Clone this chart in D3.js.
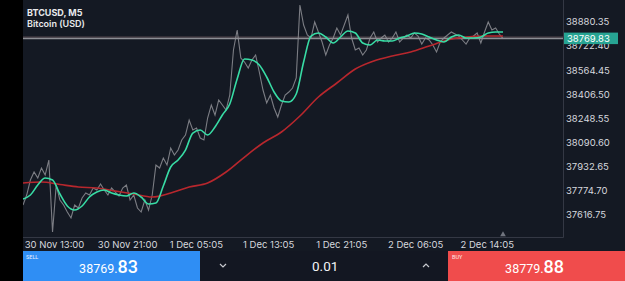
<!DOCTYPE html>
<html><head><meta charset="utf-8">
<script src="https://cdn.jsdelivr.net/npm/d3@7"></script>
<style>html,body{margin:0;padding:0;background:#000;overflow:hidden}</style>
</head><body><svg id="c" width="625" height="281"></svg>
<script>
// ---------- data ----------
const symbol = "BTCUSD, M5";
const instrument = "Bitcoin (USD)";
const totalBars = 650;
const closeStep = 5;   // bars per close sample
const closes = [
37681.5,37746.9,37845.0,37897.3,37858.1,37923.5,37877.7,37975.8,37504.9,37812.3,
37714.2,37681.5,37635.7,37596.5,37681.5,37661.9,37727.3,37760.0,37746.9,37792.7,
37779.6,37818.9,37779.6,37746.9,37792.7,37766.5,37740.4,37792.7,37812.3,37714.2,
37746.9,37661.9,37635.7,37714.2,37648.8,37746.9,37943.1,37923.5,37988.9,37943.1,
38054.3,38008.5,38041.2,38106.6,38139.3,38237.4,38172.0,38185.1,38119.7,38106.6,
38250.5,38335.5,38270.1,38368.2,38335.5,38302.8,38400.9,38695.3,38826.1,38642.9,
38616.8,38577.5,38629.9,38662.6,38551.4,38433.6,38348.6,38400.9,38315.9,38257.1,
38335.5,38400.9,38420.6,38446.7,38512.1,38989.6,38858.8,38793.4,38773.7,38878.4,
38813.0,38747.6,38662.6,38728.0,38773.7,38839.2,38793.4,38858.8,38924.2,38773.7,
38695.3,38708.3,38662.6,38695.3,38773.7,38813.0,38747.6,38773.7,38793.4,38747.6,
38773.7,38813.0,38747.6,38773.7,38793.4,38773.7,38806.4,38786.8,38734.5,38773.7,
38760.7,38728.0,38682.2,38747.6,38773.7,38793.4,38813.0,38799.9,38786.8,38760.7,
38734.5,38773.7,38786.8,38806.4,38741.0,38813.0,38878.4,38826.1,38839.2,38799.9,
38769.83];
const fastStep = 10;
const fastMA = [
37720.7,37746.9,37812.3,37858.1,37845.0,37753.4,37675.0,37648.8,37675.0,37733.8,
37766.5,37779.6,37760.0,37746.9,37740.4,37760.0,37733.8,37688.0,37694.6,37805.8,
37930.0,37975.8,38041.2,38152.4,38172.0,38139.3,38191.7,38270.1,38342.1,38505.6,
38636.4,38629.9,38597.2,38518.7,38420.6,38361.7,38355.2,38407.5,38616.8,38786.8,
38806.4,38780.3,38741.0,38780.3,38819.5,38806.4,38741.0,38728.0,38760.7,38754.1,
38754.1,38773.7,38786.8,38806.4,38799.9,38780.3,38760.7,38747.6,38780.3,38793.4,
38773.7,38773.7,38780.3,38806.4,38813.0,38813.0];
const slowStep = 25;
const slowMA = [
37825.4,37831.9,37815.6,37799.2,37792.7,37773.1,37753.4,37733.8,37760.0,37799.2,
37825.4,37897.3,37995.4,38087.0,38159.0,38263.6,38387.9,38479.4,38571.0,38623.3,
38656.0,38682.2,38721.4,38760.7,38780.3,38786.8,38786.8];
const priceTicks = [37616.75,37774.70,37932.65,38090.60,38248.55,38406.50,38564.45,38722.40,38880.35];
const timeTickBars = [42,141,234,332,431,531,628];
const timeTickLabels = ["30 Nov 13:00","30 Nov 21:00","1 Dec 05:05","1 Dec 13:05","1 Dec 21:05","2 Dec 06:05","2 Dec 14:05"];
const bid = 38769.83, ask = 38779.88, lot = "0.01";

// ---------- layout ----------
const W = 625, H = 281;
const L = 23, R = 563, T = 0, B = 237;
const svg = d3.select("#c");
const font = "Inter, 'Noto Sans', sans-serif";

svg.append("rect").attr("x",0).attr("y",0).attr("width",W).attr("height",H).attr("fill","#000");
svg.append("rect").attr("x",L).attr("y",0).attr("width",W-L).attr("height",251).attr("fill","#141923");

const x = d3.scaleLinear().domain([0,totalBars]).range([L,503]);
const y = d3.scaleLinear().domain([37472.3,39022.3]).range([B,T]);

svg.append("defs").append("clipPath").attr("id","clip")
  .append("rect").attr("x",L).attr("y",T).attr("width",R-L).attr("height",B-T);
const plot = svg.append("g").attr("clip-path","url(#clip)");

// bid / ask lines
plot.append("line").attr("x1",L).attr("x2",R).attr("y1",y(ask)).attr("y2",y(ask))
  .attr("stroke","#6e5a60").attr("stroke-width",1).attr("opacity",0.8);
plot.append("line").attr("x1",L).attr("x2",R).attr("y1",y(bid)).attr("y2",y(bid))
  .attr("stroke","#8d8e94").attr("stroke-width",1.5);

const line = step => d3.line().x((d,i)=>x(i*step)).y(d=>y(d));
plot.append("path").datum(closes).attr("d",line(closeStep))
  .attr("fill","none").attr("stroke","#8e8f95").attr("stroke-opacity",0.85).attr("stroke-width",1.1);
plot.append("path").datum(slowMA).attr("d",line(slowStep).curve(d3.curveMonotoneX))
  .attr("fill","none").attr("stroke","#b8272d").attr("stroke-width",1.6);
plot.append("path").datum(fastMA).attr("d",line(fastStep).curve(d3.curveMonotoneX))
  .attr("fill","none").attr("stroke","#38dca5").attr("stroke-width",1.6);

// frame
svg.append("line").attr("x1",R+0.5).attr("x2",R+0.5).attr("y1",0).attr("y2",B+0.5).attr("stroke","#343844");
svg.append("line").attr("x1",L).attr("x2",R+0.5).attr("y1",B+0.5).attr("y2",B+0.5).attr("stroke","#343844");

// last bar marker
svg.append("path").attr("d",d3.symbol(d3.symbolTriangle,14)())
  .attr("transform",`translate(${x(totalBars)},${B-2.5})`).attr("fill","#70747e");

// right axis
const ya = svg.append("g").attr("transform",`translate(${R},0)`)
  .call(d3.axisRight(y).tickValues(priceTicks).tickFormat(d3.format(".2f")).tickSize(0).tickPadding(3));
ya.select(".domain").remove();
ya.selectAll("text").attr("fill","#d6d8de").attr("font-family",font).attr("font-size",9.5);

// bottom axis
const xa = svg.append("g").attr("transform",`translate(0,${B})`)
  .call(d3.axisBottom(x).tickValues(timeTickBars).tickFormat((d,i)=>timeTickLabels[i]).tickSize(0).tickPadding(4.6));
xa.select(".domain").remove();
xa.selectAll("text").attr("fill","#d6d8de").attr("font-family",font).attr("font-size",9.5);

// current price tag
svg.append("rect").attr("x",R+1).attr("y",y(bid)-6).attr("width",54).attr("height",11.5).attr("fill","#27a493");
svg.append("text").attr("x",R+4).attr("y",y(bid)).attr("dy","0.35em").text(d3.format(".2f")(bid))
  .attr("fill","#fff").attr("font-family",font).attr("font-size",9.5);

// title
svg.append("text").attr("x",27).attr("y",15.8).text(symbol).attr("fill","#e8e9ec")
  .attr("font-family",font).attr("font-weight",700).attr("font-size",9);
svg.append("text").attr("x",27).attr("y",26.6).text(instrument).attr("fill","#e8e9ec")
  .attr("font-family",font).attr("font-weight",600).attr("font-size",9);

// bottom trade bar
const bt = 251;
svg.append("rect").attr("x",L).attr("y",bt).attr("width",200-L).attr("height",H-bt).attr("fill","#2f8ef4");
svg.append("rect").attr("x",200).attr("y",bt).attr("width",248).attr("height",H-bt).attr("fill","#131722");
svg.append("rect").attr("x",448).attr("y",bt).attr("width",W-448).attr("height",H-bt).attr("fill","#f04c4c");

const pf = "Roboto, 'Noto Sans', sans-serif";
svg.append("text").attr("x",26).attr("y",258.5).text("SELL").attr("fill","#e6f0ff").attr("font-family",pf).attr("font-size",5.5);
svg.append("text").attr("x",452).attr("y",258.5).text("BUY").attr("fill","#ffe8e8").attr("font-family",pf).attr("font-size",5.5);

function priceText(val, xEnd) {
  const s = d3.format(".2f")(val).split(".");
  const t = svg.append("text").attr("x",xEnd).attr("y",272.7).attr("text-anchor","end")
    .attr("fill","#fff").attr("font-family",pf);
  t.append("tspan").text(s[0]+".").attr("font-size",12.5);
  t.append("tspan").text(s[1]).attr("font-size",18).attr("font-weight",500);
}
priceText(bid,138);
priceText(ask,564);

svg.append("text").attr("x",312).attr("y",270.5).text(lot).attr("fill","#f2f3f5")
  .attr("font-family",pf).attr("font-size",13.5);
svg.append("path").attr("d","M220,264 L223,267 L226,264").attr("fill","none").attr("stroke","#c8cad0").attr("stroke-width",1.2);
svg.append("path").attr("d","M423,267 L426,264 L429,267").attr("fill","none").attr("stroke","#c8cad0").attr("stroke-width",1.2);
</script></body></html>
